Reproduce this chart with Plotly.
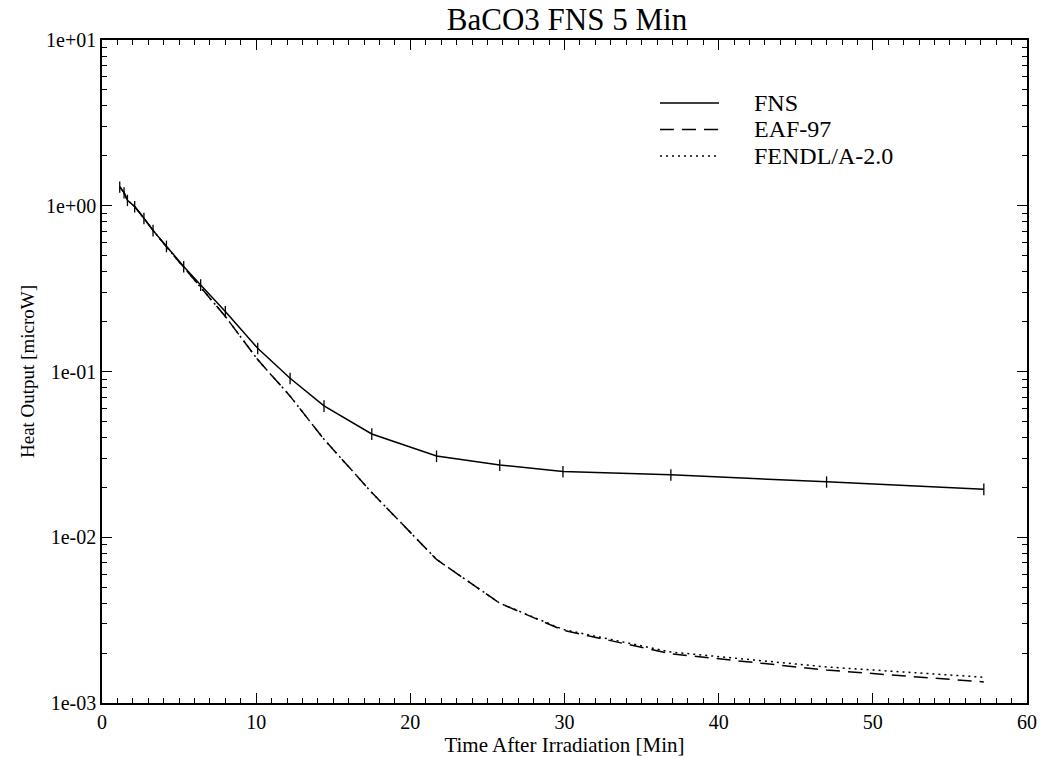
import plotly.graph_objects as go

# ---- data ----
time_min = [1.15, 1.43, 1.65, 2.12, 2.72, 3.31, 4.18, 5.30, 6.40, 8.0,
            10.1, 12.2, 14.4, 17.5, 21.7, 25.8, 29.9, 36.9, 47.0, 57.2]
fns = [1.30, 1.20, 1.08, 0.99, 0.84, 0.71, 0.57, 0.43, 0.333, 0.23,
       0.138, 0.091, 0.062, 0.042, 0.0309, 0.0273, 0.0249, 0.0238, 0.0216, 0.0195]
fns_err = [0.10, 0.095, 0.085, 0.08, 0.067, 0.057, 0.046, 0.034, 0.027, 0.018,
           0.011, 0.0073, 0.005, 0.0034, 0.0025, 0.0022, 0.0020, 0.0019, 0.0017, 0.0016]
eaf97 = [1.30, 1.20, 1.08, 0.99, 0.84, 0.71, 0.565, 0.425, 0.325, 0.215,
         0.118, 0.071, 0.039, 0.0186, 0.00735, 0.0040, 0.00275, 0.00198, 0.00158, 0.00134]
fendl = [1.30, 1.20, 1.08, 0.99, 0.84, 0.71, 0.565, 0.425, 0.325, 0.215,
         0.118, 0.071, 0.039, 0.0186, 0.00735, 0.0040, 0.00278, 0.00203, 0.00165, 0.00143]

x_ticks = [0, 10, 20, 30, 40, 50, 60]
y_ticks = [1e-3, 1e-2, 1e-1, 1e0, 1e1]
y_ticktext = ["1e-03", "1e-02", "1e-01", "1e+00", "1e+01"]

legend_names = ["FNS", "EAF-97", "FENDL/A-2.0"]

FONT = "Liberation Serif"
W, H = 1048, 758
L, R, T, B = 102, 21, 40, 55

fig = go.Figure()
fig.add_trace(go.Scatter(x=time_min, y=fns, mode="lines", name=legend_names[0],
                         line=dict(color="black", width=1.5),
                         error_y=dict(type="data", array=fns_err, visible=True,
                                      color="black", thickness=1.3, width=0)))
fig.add_trace(go.Scatter(x=time_min, y=eaf97, mode="lines", name=legend_names[1],
                         line=dict(color="black", width=1.5, dash="14px,8px")))
fig.add_trace(go.Scatter(x=time_min, y=fendl, mode="lines", name=legend_names[2],
                         line=dict(color="black", width=1.5, dash="2px,4px")))

axis_common = dict(showgrid=False, zeroline=False, showline=True, linecolor="black",
                   linewidth=1.5, mirror="allticks", ticks="inside", tickcolor="black",
                   tickwidth=1.3, ticklen=10,
                   tickfont=dict(family=FONT, size=20, color="black"))

fig.update_xaxes(range=[0, 60], tickvals=x_ticks,
                 minor=dict(ticks="inside", ticklen=5, dtick=1, tickcolor="black", tickwidth=1.2),
                 title=dict(text="Time After Irradiation [Min]",
                            font=dict(family=FONT, size=21, color="black"), standoff=2),
                 **axis_common)
fig.update_yaxes(type="log", range=[-3, 1], tickvals=y_ticks, ticktext=y_ticktext,
                 minor=dict(ticks="inside", ticklen=5, dtick="D1", tickcolor="black", tickwidth=1.2),
                 title=dict(text="Heat Output [microW]",
                            font=dict(family=FONT, size=19, color="black"), standoff=6),
                 **axis_common)

# legend drawn in paper coordinates
pw, ph = W - L - R, H - T - B
def px_x(p):
    return (p - L) / pw
def px_y(p):
    return (H - B - p) / ph

rows_y = [103, 129.5, 156]
dashes = ["solid", "14px,8px", "2px,4px"]
for name, ry, d in zip(legend_names, rows_y, dashes):
    fig.add_shape(type="line", xref="paper", yref="paper",
                  x0=px_x(660), x1=px_x(719), y0=px_y(ry), y1=px_y(ry),
                  line=dict(color="black", width=1.5, dash=d))
    fig.add_annotation(xref="paper", yref="paper", x=px_x(752), y=px_y(ry),
                       xanchor="left", yanchor="middle", text=name, showarrow=False,
                       font=dict(family=FONT, size=24, color="black"))

fig.update_layout(
    width=W, height=H, margin=dict(l=L, r=R, t=T, b=B, autoexpand=False),
    paper_bgcolor="white", plot_bgcolor="white", showlegend=False,
    title=dict(text="BaCO3 FNS 5 Min", x=px_x(567), xref="paper", xanchor="center",
               y=1 - 19 / H, yref="container", yanchor="middle",
               font=dict(family=FONT, size=31, color="black")),
)

fig.write_html("out.html")
